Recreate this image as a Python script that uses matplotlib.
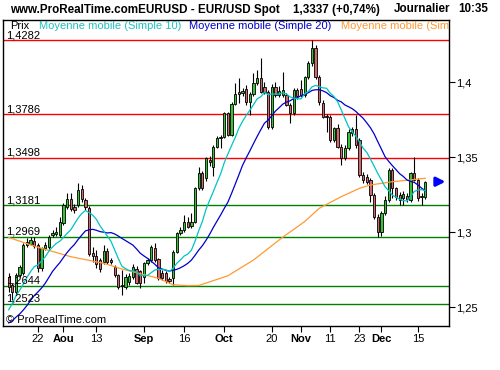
import matplotlib
matplotlib.use("Agg")
import matplotlib.pyplot as plt
import matplotlib.transforms as mtransforms
import numpy as np

plt.rcParams['font.family'] = ['Liberation Sans', 'DejaVu Sans']

# EUR/USD daily candles, one per session (first = 12 Jul, last = 17 Dec)
opens = [1.2700, 1.2649, 1.2604, 1.2715, 1.2727, 1.2915, 1.2925, 1.2942, 1.2915, 1.2760,
         1.2893, 1.2900, 1.2982, 1.2990, 1.2982, 1.3060, 1.3170, 1.3220, 1.3171, 1.3182,
         1.3286, 1.3215, 1.3160, 1.2860, 1.2840, 1.2815, 1.2804, 1.2878, 1.2815, 1.2771,
         1.2715, 1.2645, 1.2638, 1.2671, 1.2704, 1.2753, 1.2740, 1.2704, 1.2793, 1.2815,
         1.2893, 1.2820, 1.2730, 1.2726, 1.2691, 1.2693, 1.2871, 1.2993, 1.3015, 1.3071,
         1.3042, 1.3071, 1.3293, 1.3393, 1.3360, 1.3480, 1.3433, 1.3571, 1.3626, 1.3638,
         1.3793, 1.3649, 1.3856, 1.3938, 1.3927, 1.3953, 1.3865, 1.3922, 1.3993, 1.4027,
         1.3971, 1.3938, 1.3700, 1.3971, 1.3916, 1.3916, 1.3916, 1.3849, 1.3793, 1.3949,
         1.3953, 1.3916, 1.4038, 1.4127, 1.4227, 1.4038, 1.3865, 1.3776, 1.3767, 1.3616,
         1.3693, 1.3571, 1.3493, 1.3560, 1.3660, 1.3686, 1.3615, 1.3382, 1.3371, 1.3349,
         1.3249, 1.3104, 1.3004, 1.3127, 1.3215, 1.3415, 1.3293, 1.3249, 1.3227, 1.3242,
         1.3215, 1.3398, 1.3349, 1.3233, 1.3238]
highs = [1.2726, 1.2660, 1.2726, 1.2780, 1.2930, 1.2960, 1.2970, 1.2970, 1.2930, 1.2905,
         1.2935, 1.2985, 1.3015, 1.3038, 1.3104, 1.3195, 1.3260, 1.3260, 1.3190, 1.3327,
         1.3315, 1.3230, 1.3175, 1.2900, 1.2880, 1.2830, 1.2915, 1.2895, 1.2830, 1.2785,
         1.2725, 1.2749, 1.2725, 1.2730, 1.2790, 1.2775, 1.2750, 1.2800, 1.2830, 1.2915,
         1.2926, 1.2830, 1.2750, 1.2745, 1.2700, 1.2880, 1.3000, 1.3038, 1.3115, 1.3104,
         1.3126, 1.3300, 1.3438, 1.3410, 1.3500, 1.3510, 1.3580, 1.3640, 1.3650, 1.3800,
         1.3800, 1.3870, 1.3993, 1.4027, 1.3960, 1.3982, 1.3935, 1.4060, 1.4082, 1.4160,
         1.4000, 1.3950, 1.3990, 1.4004, 1.3975, 1.4071, 1.3930, 1.3860, 1.3960, 1.3965,
         1.4016, 1.4040, 1.4140, 1.4282, 1.4250, 1.4050, 1.3880, 1.3790, 1.3780, 1.3700,
         1.3720, 1.3590, 1.3580, 1.3690, 1.3700, 1.3782, 1.3630, 1.3400, 1.3390, 1.3360,
         1.3260, 1.3120, 1.3140, 1.3240, 1.3430, 1.3430, 1.3300, 1.3270, 1.3275, 1.3265,
         1.3400, 1.3500, 1.3360, 1.3260, 1.3342]
lows = [1.2604, 1.2549, 1.2580, 1.2700, 1.2715, 1.2905, 1.2915, 1.2893, 1.2738, 1.2745,
        1.2880, 1.2890, 1.2970, 1.2975, 1.2970, 1.3050, 1.3155, 1.3140, 1.3130, 1.3170,
        1.3200, 1.3150, 1.2840, 1.2800, 1.2760, 1.2735, 1.2790, 1.2790, 1.2790, 1.2700,
        1.2625, 1.2582, 1.2620, 1.2650, 1.2690, 1.2655, 1.2626, 1.2660, 1.2780, 1.2800,
        1.2805, 1.2680, 1.2685, 1.2660, 1.2660, 1.2648, 1.2860, 1.2980, 1.3000, 1.3030,
        1.3030, 1.3060, 1.3280, 1.3280, 1.3340, 1.3440, 1.3375, 1.3560, 1.3560, 1.3630,
        1.3640, 1.3640, 1.3849, 1.3860, 1.3910, 1.3850, 1.3782, 1.3910, 1.3985, 1.3930,
        1.3920, 1.3690, 1.3690, 1.3900, 1.3900, 1.3905, 1.3840, 1.3731, 1.3780, 1.3890,
        1.3900, 1.3905, 1.4020, 1.4110, 1.4020, 1.3850, 1.3760, 1.3671, 1.3600, 1.3600,
        1.3560, 1.3449, 1.3480, 1.3550, 1.3640, 1.3560, 1.3370, 1.3330, 1.3320, 1.3204,
        1.3090, 1.2971, 1.2975, 1.3115, 1.3205, 1.3230, 1.3215, 1.3182, 1.3185, 1.3200,
        1.3200, 1.3340, 1.3210, 1.3182, 1.3225]
closes = [1.2638, 1.2604, 1.2715, 1.2771, 1.2915, 1.2937, 1.2948, 1.2909, 1.2760, 1.2893,
          1.2915, 1.2971, 1.2997, 1.3004, 1.3071, 1.3182, 1.3220, 1.3153, 1.3149, 1.3282,
          1.3220, 1.3171, 1.2853, 1.2840, 1.2790, 1.2755, 1.2878, 1.2804, 1.2805, 1.2715,
          1.2638, 1.2650, 1.2704, 1.2708, 1.2771, 1.2664, 1.2660, 1.2793, 1.2815, 1.2904,
          1.2815, 1.2693, 1.2695, 1.2678, 1.2675, 1.2871, 1.2993, 1.3015, 1.3071, 1.3038,
          1.3071, 1.3293, 1.3393, 1.3293, 1.3493, 1.3470, 1.3571, 1.3626, 1.3638, 1.3793,
          1.3649, 1.3856, 1.3922, 1.3922, 1.3942, 1.3865, 1.3922, 1.3993, 1.4027, 1.3938,
          1.3938, 1.3700, 1.3971, 1.3916, 1.3940, 1.3949, 1.3849, 1.3793, 1.3949, 1.3905,
          1.3916, 1.4038, 1.4127, 1.4227, 1.4038, 1.3865, 1.3767, 1.3767, 1.3616, 1.3693,
          1.3571, 1.3493, 1.3560, 1.3671, 1.3686, 1.3582, 1.3382, 1.3349, 1.3338, 1.3249,
          1.3104, 1.3004, 1.3127, 1.3215, 1.3415, 1.3293, 1.3238, 1.3215, 1.3253, 1.3220,
          1.3393, 1.3349, 1.3227, 1.3242, 1.3337]
# 19 sessions before the first candle (only used to start the moving averages)
prev_closes = [1.2300, 1.2250, 1.2350, 1.2390, 1.2330, 1.2270, 1.2260, 1.2280, 1.2370, 1.2280,
               1.2190, 1.2200, 1.2400, 1.2500, 1.2490, 1.2560, 1.2580, 1.2650, 1.2620]

# orange moving average (session index, value)
ma100_idx = [0, 8, 17, 26, 31, 41, 45, 49, 52, 60, 67, 75, 81, 85, 91, 96, 99, 105, 110, 114]
ma100_val = [1.2965, 1.2900, 1.2837, 1.2793, 1.2755, 1.2693, 1.2650, 1.2644, 1.2645, 1.2710,
             1.2815, 1.2967, 1.3071, 1.3160, 1.3237, 1.3293, 1.3315, 1.3337, 1.3349, 1.3360]

red_levels = [1.4282, 1.3786, 1.3498]
green_levels = [1.3181, 1.2969, 1.2644, 1.2523]

tick_pos = [8, 15, 24, 37, 48, 59, 72, 80, 88, 96, 102, 112]
tick_labels = ['22', 'Aou', '13', 'Sep', '16', 'Oct', '20', 'Nov', '11', '23', 'Dec', '15']
months = ['Aou', 'Sep', 'Oct', 'Nov', 'Dec']

y_ticks = [1.25, 1.30, 1.35, 1.40]

# ---- moving averages
o = np.array(opens)
h = np.array(highs)
l = np.array(lows)
c = np.array(closes)
n = len(c)
allc = np.array(prev_closes + closes)
sma10 = np.convolve(allc, np.ones(10) / 10, mode='valid')[-n:]
sma20 = np.convolve(allc, np.ones(20) / 20, mode='valid')[-n:]
x = np.arange(n)

fig = plt.figure(figsize=(5, 3.7), dpi=100)
ax = fig.add_axes([3 / 500, 44 / 370, 446 / 500, 306 / 370])

for lv in red_levels:
    ax.axhline(lv, color='#ff0000', lw=1, zorder=1)
for lv in green_levels:
    ax.axhline(lv, color='#008000', lw=1, zorder=1)

# level values written just above their lines
lbl_tr = mtransforms.blended_transform_factory(ax.transAxes, ax.transData)
for lv in red_levels + green_levels:
    ax.annotate(('%.4f' % lv).replace('.', ','), xy=(0.007, lv), xycoords=lbl_tr,
                xytext=(0, 1.4), textcoords='offset points', fontsize=8,
                va='baseline', ha='left', zorder=5)

# candles
up = c >= o
ax.vlines(x, l, h, color='black', lw=0.8, zorder=2)
body_lo = np.minimum(o, c)
body_h = np.abs(c - o)
ax.bar(x[up], body_h[up], bottom=body_lo[up], width=0.62, color='#36c436',
       edgecolor='black', lw=0.6, zorder=3)
ax.bar(x[~up], body_h[~up], bottom=body_lo[~up], width=0.62, color='#d06a6a',
       edgecolor='black', lw=0.6, zorder=3)

ax.plot(ma100_idx, ma100_val, color='#ff9933', lw=0.9, zorder=4)
ax.plot(x, sma20, color='#0000cc', lw=0.9, zorder=4)
ax.plot(x, sma10, color='#00c4c4', lw=0.9, zorder=4)

# arrow on the last price
ax.annotate('', xy=(120.3, c[-1]), xytext=(116.0, c[-1]),
            arrowprops=dict(arrowstyle='-|>', color='#0000ff', lw=2.2, mutation_scale=13),
            zorder=6, annotation_clip=False)

ax.set_xlim(-1.55, 120.5)
ax.set_ylim(1.2375, 1.4415)

ax.yaxis.tick_right()
ax.set_yticks(y_ticks)
ax.set_yticklabels([('%g' % v).replace('.', ',') for v in y_ticks], fontsize=8)
ax.tick_params(axis='y', direction='out', length=4, width=0.8, pad=1)
ax.set_xticks(tick_pos)
ax.set_xticklabels(tick_labels, fontsize=8)
for t in ax.get_xticklabels():
    if t.get_text() in months:
        t.set_fontweight('bold')
ax.tick_params(axis='x', direction='out', length=4, width=0.8, pad=2)
for s in ax.spines.values():
    s.set_linewidth(1)

# legend row inside the frame, just under the top border
row_y = 0.998
ax.text(7 / 446, row_y, 'Prix', transform=ax.transAxes, fontsize=8, va='top', ha='left', zorder=5)
ax.text(36 / 446, row_y, 'Moyenne mobile (Simple 10)', transform=ax.transAxes, fontsize=8,
        va='top', ha='left', color='#20c0c0', zorder=5)
ax.text(186 / 446, row_y, 'Moyenne mobile (Simple 20)', transform=ax.transAxes, fontsize=8,
        va='top', ha='left', color='#0000cc', zorder=5)
ax.text(338 / 446, row_y, 'Moyenne mobile (Simple 100)', transform=ax.transAxes, fontsize=8,
        va='top', ha='left', color='#ff9933', zorder=5, clip_on=True)
ax.text(3 / 446, 0.01, '\u00a9 ProRealTime.com', transform=ax.transAxes, fontsize=8,
        va='baseline', ha='left', zorder=5)

# header
hy = 1 - 9.5 / 370
fig.text(10 / 500, hy, 'www.ProRealTime.comEURUSD - EUR/USD Spot', fontsize=8.4,
         fontweight='bold', va='center', ha='left')
fig.text(293 / 500, hy, '1,3337 (+0,74%)', fontsize=8.4, fontweight='bold',
         va='center', ha='left')
fig.text(394 / 500, hy, 'Journalier', fontsize=8.4, fontweight='bold',
         va='center', ha='left')
fig.text(458 / 500, hy, '10:35', fontsize=8.4, fontweight='bold',
         va='center', ha='left')

fig.savefig('out.png', dpi=100)
